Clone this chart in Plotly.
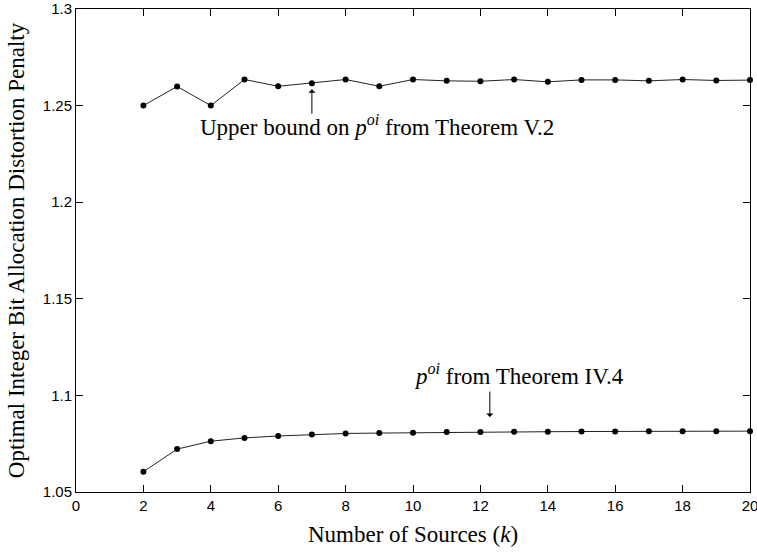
import plotly.graph_objects as go

k = list(range(2, 21))
upper_bound = [1.2500, 1.2599, 1.2500, 1.2635, 1.2600, 1.2616, 1.2635, 1.2600, 1.2635,
               1.2628, 1.2626, 1.2635, 1.2623, 1.2633, 1.2633, 1.2628, 1.2635, 1.2630, 1.2632]
p_oi = [1.0605, 1.0722, 1.0763, 1.0780, 1.0790, 1.0798, 1.0803, 1.0805, 1.0807,
        1.0810, 1.0811, 1.0812, 1.0812, 1.0813, 1.0813, 1.0814, 1.0814, 1.0815, 1.0815]

x_ticks = list(range(0, 21, 2))
y_ticks = [1.05, 1.1, 1.15, 1.2, 1.25, 1.3]
y_tick_labels = ["1.05", "1.1", "1.15", "1.2", "1.25", "1.3"]

serif = "Liberation Serif"
sans = "Liberation Sans"
FS = 23

fig = go.Figure()
for ys in (upper_bound, p_oi):
    fig.add_trace(go.Scatter(
        x=k, y=ys, mode="lines+markers",
        line=dict(color="#222222", width=1),
        marker=dict(color="black", size=6),
        showlegend=False, cliponaxis=False, hoverinfo="skip",
    ))

fig.add_annotation(x=7, y=upper_bound[5], text="", showarrow=True,
                   arrowhead=1, arrowsize=1.2, arrowwidth=1, arrowcolor="black",
                   ax=0, ay=32, standoff=6)
fig.add_annotation(x=8.93, y=1.2395, text="Upper bound on <i>p</i><sup><i>oi</i></sup> from Theorem V.2",
                   showarrow=False, font=dict(family=serif, size=FS, color="black"))

fig.add_annotation(x=12.28, y=1.0888, text="", showarrow=True,
                   arrowhead=1, arrowsize=1.2, arrowwidth=1, arrowcolor="black",
                   ax=0, ay=-27, standoff=0)
fig.add_annotation(x=13.15, y=1.1106, text="<i>p</i><sup><i>oi</i></sup> from Theorem IV.4",
                   showarrow=False, font=dict(family=serif, size=FS, color="black"))

axis_common = dict(showgrid=False, zeroline=False, showline=True, linecolor="black",
                   linewidth=1, mirror="allticks", ticks="inside", ticklen=7,
                   tickcolor="black", automargin=False, ticklabeloverflow="allow",
                   tickfont=dict(family=sans, size=15, color="black"))

fig.update_xaxes(range=[0, 20], tickvals=x_ticks,
                 title=dict(text="Number of Sources (<i>k</i>)",
                            font=dict(family=serif, size=FS, color="black"), standoff=12),
                 **axis_common)
fig.update_yaxes(range=[1.05, 1.3], tickvals=y_ticks, ticktext=y_tick_labels,
                 title=dict(text="Optimal Integer Bit Allocation Distortion Penalty",
                            font=dict(family=serif, size=FS, color="black"), standoff=11),
                 **axis_common)

fig.update_layout(width=757, height=555, margin=dict(l=76, r=7, t=9, b=63),
                  plot_bgcolor="white", paper_bgcolor="white")

fig.write_html("out.html", config={"displayModeBar": False},
               post_script="document.body.style.margin='0';document.body.style.overflow='hidden';")
